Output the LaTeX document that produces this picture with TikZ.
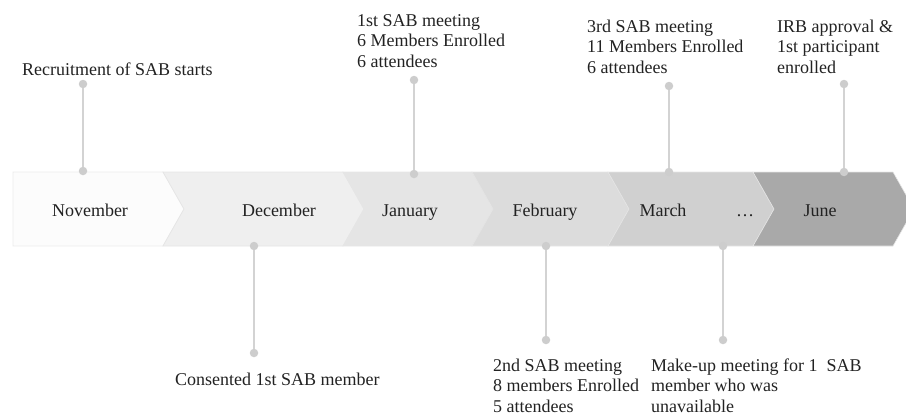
\documentclass[tikz,border=0pt]{standalone}
\usepackage{fontspec}
\setmainfont{Liberation Serif}
\definecolor{txt}{HTML}{222222}
\definecolor{dotc}{HTML}{CDCDCD}
\definecolor{linec}{HTML}{D3D3D3}
\definecolor{cNov}{HTML}{FCFCFC}
\definecolor{cDec}{HTML}{EFEFEF}
\definecolor{cJan}{HTML}{E5E5E5}
\definecolor{cFeb}{HTML}{DCDCDC}
\definecolor{cMar}{HTML}{D0D0D0}
\definecolor{cJun}{HTML}{A9A9A9}
\begin{document}
\begin{tikzpicture}[x=1pt,y=-1pt,
  evtext/.style={font=\fontsize{18}{20.5}\selectfont, text=txt, align=left, inner sep=0pt, anchor=base west},
  month/.style={font=\fontsize{18}{20.5}\selectfont, text=txt, inner sep=0pt, anchor=base},
  dot/.style={circle, fill=dotc, minimum size=8.5pt, inner sep=0pt},
  conn/.style={draw=linec, line width=1.6pt},
  chev/.style={draw=white!90!black, line width=0.6pt}]
\useasboundingbox (0,0) rectangle (906,415);
\begin{scope}
\clip (0,0) rectangle (906,415);
% chevrons
\fill[cNov, draw=black!8, line width=0.8pt] (13,172) -- (163,172) -- (184,209) -- (163,246) -- (13,246) -- cycle;
\fill[cDec, chev] (163,172) -- (343,172) -- (364,209) -- (343,246) -- (163,246) -- (184,209) -- cycle;
\fill[cJan, chev] (343,172) -- (472,172) -- (493,209) -- (472,246) -- (343,246) -- (364,209) -- cycle;
\fill[cFeb, chev] (472,172) -- (608,172) -- (629,209) -- (608,246) -- (472,246) -- (493,209) -- cycle;
\fill[cMar, chev] (608,172) -- (753,172) -- (774,209) -- (753,246) -- (608,246) -- (629,209) -- cycle;
\fill[cJun, chev] (753,172) -- (893,172) -- (914,209) -- (893,246) -- (753,246) -- (774,209) -- cycle;
\end{scope}
% month labels
\node[month] (nov) at (90,216) {November};
\node[month] (dec) at (279,216) {December};
\node[month] (jan) at (410,216) {January};
\node[month] (feb) at (545,216) {February};
\node[month] (mar) at (663,216) {March};
\node[month] (dots) at (745,216) {\dots};
\node[month] (jun) at (820,216) {June};
% top events
\node[dot] (r1) at (83,84) {};
\node[dot] (r2) at (83,171) {};
\draw[conn] (r1) -- (r2);
\node[evtext] (rt) at (22,75) {Recruitment of SAB starts};

\node[dot] (a1) at (414,80) {};
\node[dot] (a2) at (414,174) {};
\draw[conn] (a1) -- (a2);
\node[evtext] (at) at (357,67) {1st SAB meeting\\6 Members Enrolled\\6 attendees};

\node[dot] (c1) at (669,86) {};
\node[dot] (c2) at (669,172) {};
\draw[conn] (c1) -- (c2);
\node[evtext] (ct) at (587,73) {3rd SAB meeting\\11 Members Enrolled\\6 attendees};

\node[dot] (i1) at (844,84) {};
\node[dot] (i2) at (844,172) {};
\draw[conn] (i1) -- (i2);
\node[evtext] (it) at (777,73) {IRB approval \&\\1st participant\\enrolled};
% bottom events
\node[dot] (d1) at (254,246) {};
\node[dot] (d2) at (254,353) {};
\draw[conn] (d1) -- (d2);
\node[evtext] (dt) at (175,385) {Consented 1st SAB member};

\node[dot] (b1) at (546,246) {};
\node[dot] (b2) at (546,340) {};
\draw[conn] (b1) -- (b2);
\node[evtext] (bt) at (493,412) {2nd SAB meeting\\8 members Enrolled\\5 attendees};

\node[dot] (m1) at (723,246) {};
\node[dot] (m2) at (723,340) {};
\draw[conn] (m1) -- (m2);
\node[evtext] (mt) at (651,412) {Make-up meeting for 1\ \ SAB\\member who was\\unavailable};
\end{tikzpicture}
\end{document}
